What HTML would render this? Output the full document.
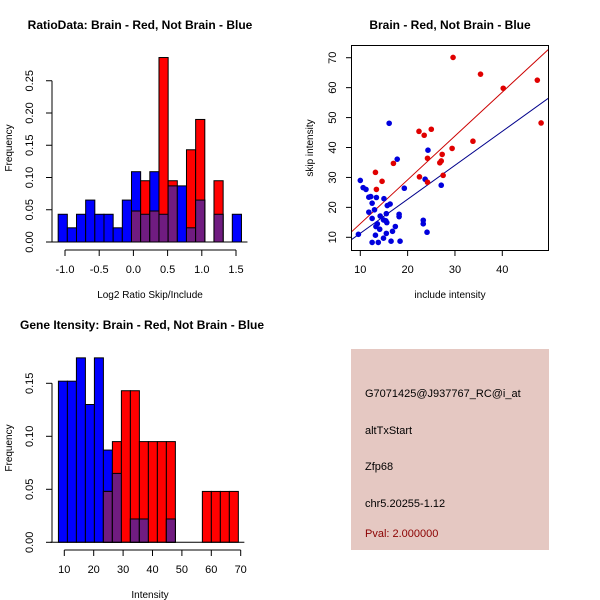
<!DOCTYPE html>
<html><head><meta charset="utf-8"><style>
body{margin:0;background:#fff}
svg{display:block;font-family:"Liberation Sans",sans-serif}
</style></head><body>
<svg id="c" width="600" height="600" viewBox="0 0 600 600"></svg>
<script>
// ---- Panel 1: ratio histogram ----
const ratioBinStart = -1.1;
const ratioBinWidth = 0.134;
const ratioBlue = [0.043,0.022,0.043,0.065,0.043,0.043,0.022,0.065,0.109,0.043,0.109,0.043,0.087,0.087,0.022,0.065,0,0.043,0,0.043];
const ratioRed  = [0,0,0,0,0,0,0,0,0.048,0.095,0.048,0.286,0.095,0,0.143,0.19,0,0.095,0,0];
const ratioXTicks = [-1.0,-0.5,0.0,0.5,1.0,1.5];
const ratioXLabels = ["-1.0","-0.5","0.0","0.5","1.0","1.5"];
const ratioYTicks = [0,0.05,0.10,0.15,0.20,0.25];
const ratioYLabels = ["0.00","0.05","0.10","0.15","0.20","0.25"];
// ---- Panel 2: scatter ----
const redInc  = [29.6,35.4,40.2,47.4,48.2,22.4,23.5,25,33.8,29.4,24.2,27.3,26.8,27.1,17,13.2,14.6,13.4,22.5,24.2,27.5];
const redSkip = [70.1,64.5,59.8,62.5,48.2,45.4,44.1,46.1,42.1,39.7,36.4,37.7,34.9,35.5,34.7,31.7,28.7,26,30.2,28.4,30.7];
const blueInc  = [16.1,17.8,24.3,23.7,27.1,19.3,10,10.6,11.2,11.8,12.2,13.4,12.5,15,15.7,16.3,15.5,14.2,18.2,18.2,11.8,13,12.5,14.9,15.4,15.6,13.6,13.3,14.1,17.4,16.8,15.5,23.3,23.3,24.1,13.2,9.6,14.9,12.5,13.8,16.5,18.4];
const blueSkip = [48.1,36.1,39.1,29.4,27.4,26.4,29,26.6,26,23.4,23.6,23.3,21.4,22.9,20.6,21.1,17.9,17.1,17.7,16.9,18.4,19.2,16.3,15.8,15.5,14.9,14.5,13.6,12.7,13.6,12,11.3,15.7,14.5,11.7,10.7,11,9.7,8.3,8.3,8.7,8.7];
const redFit = [-0.1,1.465];   // intercept, slope
const blueFit = [0.0,1.135];
const scXTicks = [10,20,30,40];
const scYTicks = [10,20,30,40,50,60,70];
// ---- Panel 3: intensity histogram ----
const intBinStart = 8;
const intBinWidth = 3.06;
const intBlue = [0.152,0.152,0.174,0.13,0.174,0.087,0.065,0,0.022,0.022,0,0,0.022,0,0,0,0,0,0,0];
const intRed  = [0,0,0,0,0,0.048,0.095,0.143,0.143,0.095,0.095,0.095,0.095,0,0,0,0.048,0.048,0.048,0.048];
const intXTicks = [10,20,30,40,50,60,70];
const intYTicks = [0,0.05,0.10,0.15];
const intYLabels = ["0.00","0.05","0.10","0.15"];
// ---- Panel 4 info ----
const infoLines = ["G7071425@J937767_RC@i_at","altTxStart","Zfp68","chr5.20255-1.12"];
const pvalText = "Pval: 2.000000";

const svg = document.getElementById('c');
const NS = 'http://www.w3.org/2000/svg';
function mk(tag, attrs, parent){const e=document.createElementNS(NS,tag);for(const k in attrs)e.setAttribute(k,attrs[k]);(parent||svg).appendChild(e);return e;}
function txt(s, attrs, parent){const e=mk('text',attrs,parent);e.textContent=s;return e;}
const PURPLE='#701c80';

function histogram(name, binStart, binW, blue, red, xs, ys, yTicks, yLabels, xTicks, xLabels, baseY, axX){
  const g=mk('g',{});
  
  
  for(let i=0;i<blue.length;i++){
    const x0=xs(binStart+i*binW), x1=xs(binStart+(i+1)*binW);
    const layers=[[blue[i],'#0000ff','blue'],[red[i],'#ff0000','red'],[Math.min(blue[i],red[i]),PURPLE,'overlap']];
    for(const [v,col,nm] of layers){
      if(v<=0) continue;
      const r=mk('rect',{x:x0,y:ys(v),width:x1-x0,height:ys(0)-ys(v),fill:col,stroke:'#000','stroke-width':1},g);
      
      
    }
  }
  mk('line',{x1:xs(binStart)-8,x2:xs(binStart+blue.length*binW)+6,y1:ys(0),y2:ys(0),stroke:'#000'},g);
  const ya=mk('g',{},g);
  
  
  mk('line',{x1:axX,x2:axX,y1:ys(yTicks[0]),y2:ys(yTicks[yTicks.length-1]),stroke:'#000'},ya);
  yTicks.forEach((t,i)=>{const y=ys(t);mk('line',{x1:axX-6,x2:axX,y1:y,y2:y,stroke:'#000'},ya);
    txt(yLabels[i],{x:axX-19,y:y,transform:`rotate(-90 ${axX-19} ${y})`,'text-anchor':'middle','font-size':11},ya);});
  const xa=mk('g',{},g);
  
  
  mk('line',{x1:xs(xTicks[0]),x2:xs(xTicks[xTicks.length-1]),y1:baseY,y2:baseY,stroke:'#000'},xa);
  xTicks.forEach((t,i)=>{const x=xs(t);mk('line',{x1:x,x2:x,y1:baseY,y2:baseY+6,stroke:'#000'},xa);
    txt(xLabels[i],{x:x,y:baseY+23,'text-anchor':'middle','font-size':11},xa);});
}

// Panel 1
const xs1=v=>65+(v+1)*68.4, ys1=v=>242-v*645;
histogram('ratio-histogram',ratioBinStart,ratioBinWidth,ratioBlue,ratioRed,xs1,ys1,ratioYTicks,ratioYLabels,ratioXTicks,ratioXLabels,250,52);
let t=txt('RatioData: Brain - Red, Not Brain - Blue',{x:140,y:29,'text-anchor':'middle','font-size':12,'font-weight':'bold'});

t=txt('Log2 Ratio Skip/Include',{x:150,y:298,'text-anchor':'middle','font-size':10});

t=txt('Frequency',{x:12,y:148,transform:'rotate(-90 12 148)','text-anchor':'middle','font-size':10});


// Panel 2
const xs2=v=>360.3+(v-10)*4.733, ys2=v=>237.3-(v-10)*2.993;
const pg=mk('g',{});


const cp=mk('clipPath',{id:'clp'},pg);
mk('rect',{x:352,y:45,width:196,height:205},cp);
[[redFit,'#cc0000','red-fit-line'],[blueFit,'#00008b','blue-fit-line']].forEach(([f,c,n])=>{
  const l=mk('line',{x1:xs2(5),y1:ys2(f[0]+f[1]*5),x2:xs2(55),y2:ys2(f[0]+f[1]*55),stroke:c,'stroke-width':1,'clip-path':'url(#clp)'},pg);
  
});
blueInc.forEach((v,i)=>{const c=mk('circle',{cx:xs2(v),cy:ys2(blueSkip[i]),r:2.8,fill:'#0000dd'},pg);
  });
redInc.forEach((v,i)=>{const c=mk('circle',{cx:xs2(v),cy:ys2(redSkip[i]),r:2.8,fill:'#e00000'},pg);
  });
mk('rect',{x:351.5,y:45.5,width:197,height:205,fill:'none',stroke:'#000'},pg);
scXTicks.forEach(v=>{const x=xs2(v);mk('line',{x1:x,x2:x,y1:250.5,y2:256,stroke:'#000'},pg);txt(String(v),{x:x,y:273,'text-anchor':'middle','font-size':11},pg);});
scYTicks.forEach(v=>{const y=ys2(v);mk('line',{x1:346,x2:351.5,y1:y,y2:y,stroke:'#000'},pg);txt(String(v),{x:336,y:y,transform:`rotate(-90 336 ${y})`,'text-anchor':'middle','font-size':11},pg);});
t=txt('Brain - Red, Not Brain - Blue',{x:450,y:29,'text-anchor':'middle','font-size':12,'font-weight':'bold'});

t=txt('include intensity',{x:450,y:298,'text-anchor':'middle','font-size':10});

t=txt('skip intensity',{x:313,y:148,transform:'rotate(-90 313 148)','text-anchor':'middle','font-size':10});


// Panel 3
const xs3=v=>64.3+(v-10)*2.94, ys3=v=>542.3-v*1060;
histogram('intensity-histogram',intBinStart,intBinWidth,intBlue,intRed,xs3,ys3,intYTicks,intYLabels,intXTicks,intXTicks.map(String),550,52);
t=txt('Gene Itensity: Brain - Red, Not Brain - Blue',{x:20,y:329,'font-size':12,'font-weight':'bold'});

t=txt('Intensity',{x:150,y:598,'text-anchor':'middle','font-size':10});

t=txt('Frequency',{x:12,y:448,transform:'rotate(-90 12 448)','text-anchor':'middle','font-size':10});


// Panel 4
const ig=mk('g',{});


mk('rect',{x:351,y:349,width:198,height:201,fill:'#e5c8c2'},ig);
const ys4=[397,434,470,507];
infoLines.forEach((s,i)=>{const e=txt(s,{x:365,y:ys4[i],'font-size':11,fill:'#000'},ig);
  });
t=txt(pvalText,{x:365,y:537,'font-size':11,fill:'#8b0000'},ig);

</script>
</body></html>
